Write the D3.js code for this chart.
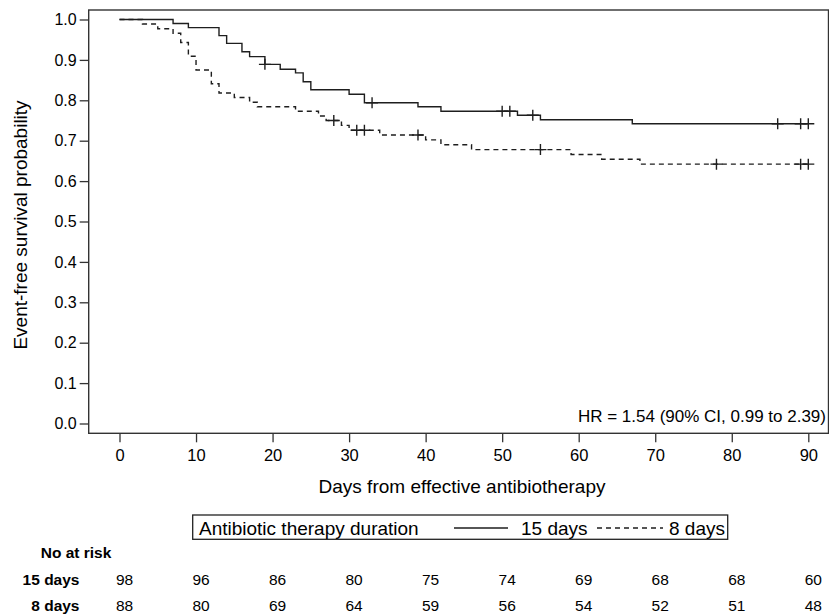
<!DOCTYPE html>
<html>
<head>
<meta charset="utf-8">
<script src="https://cdn.jsdelivr.net/npm/d3@7"></script>
<style>
  body { margin: 0; background: #fff; }
  text { font-family: "Liberation Sans", Arial, sans-serif; fill: #000; }
</style>
</head>
<body>
<div id="chart"></div>
<script>
// Kaplan-Meier steps (time in days, survival after the step)
var longTimes = [0, 7, 9, 13, 14, 16, 17, 19, 21, 23, 24, 25, 30, 32, 39, 42, 52, 55, 67];
var longSurv  = [1.0, 0.990, 0.980, 0.960, 0.941, 0.920, 0.908, 0.889, 0.877, 0.868, 0.846, 0.826, 0.815, 0.794, 0.784, 0.773, 0.763, 0.752, 0.742];
var longCensor = [19, 33, 50, 51, 54, 86, 89, 90];

var shortTimes = [0, 3, 5, 7, 8, 9, 10, 12, 13, 15, 17, 18, 23, 26, 27, 29, 30, 34, 40, 42, 46, 59, 63, 68];
var shortSurv  = [1.0, 0.989, 0.977, 0.966, 0.943, 0.909, 0.875, 0.841, 0.818, 0.807, 0.795, 0.784, 0.773, 0.761, 0.750, 0.738, 0.726, 0.714, 0.702, 0.690, 0.678, 0.666, 0.654, 0.642];
var shortCensor = [28, 31, 32, 39, 55, 78, 89, 90];

var xTicks = [0, 10, 20, 30, 40, 50, 60, 70, 80, 90];
var yTicks = [0, 0.1, 0.2, 0.3, 0.4, 0.5, 0.6, 0.7, 0.8, 0.9, 1.0];

var riskLabels = ["15 days", "8 days"];
var riskLong  = [98, 96, 86, 80, 75, 74, 69, 68, 68, 60];
var riskShort = [88, 80, 69, 64, 59, 56, 54, 52, 51, 48];

var svgWidth = 829;
var svgHeight = 616;
var frame = { left: 88.7, right: 828.5, top: 10, bottom: 433.3 };

var svg = d3.select("#chart")
  .append("svg")
  .attr("width", svgWidth)
  .attr("height", svgHeight);

var x = d3.scaleLinear().domain([0, 90]).range([119.5, 808.3]);
var y = d3.scaleLinear().domain([0, 1]).range([423.5, 19.5]);

var lineColor = "#1e1e1e";

// frame
svg.append("rect")
  .attr("x", frame.left)
  .attr("y", frame.top)
  .attr("width", frame.right - frame.left)
  .attr("height", frame.bottom - frame.top)
  .attr("fill", "none")
  .attr("stroke", "#333")
  .attr("stroke-width", 1.4);

// axes
var leftAxis = d3.axisLeft(y)
  .tickValues(yTicks)
  .tickSize(9)
  .tickPadding(3)
  .tickFormat(d3.format(".1f"));

var yAxisG = svg.append("g")
  .attr("transform", `translate(${frame.left}, 0)`)
  .call(leftAxis);
yAxisG.select(".domain").remove();
yAxisG.selectAll("line").attr("stroke", "#333").attr("stroke-width", 1.3);
yAxisG.selectAll("text")
  .style("font-family", "'Liberation Sans', Arial, sans-serif")
  .style("font-size", "16px")
  .attr("fill", "#000");

var bottomAxis = d3.axisBottom(x)
  .tickValues(xTicks)
  .tickSize(9)
  .tickPadding(7)
  .tickFormat(d3.format("d"));

var xAxisG = svg.append("g")
  .attr("transform", `translate(0, ${frame.bottom})`)
  .call(bottomAxis);
xAxisG.select(".domain").remove();
xAxisG.selectAll("line").attr("stroke", "#333").attr("stroke-width", 1.3);
xAxisG.selectAll("text")
  .style("font-family", "'Liberation Sans', Arial, sans-serif")
  .style("font-size", "16.5px")
  .attr("fill", "#000");

// axis titles
svg.append("text")
  .attr("transform", "translate(27, 225) rotate(-90)")
  .attr("text-anchor", "middle")
  .style("font-size", "19px")
  .text("Event-free survival probability");

svg.append("text")
  .attr("x", 462)
  .attr("y", 493)
  .attr("text-anchor", "middle")
  .style("font-size", "19px")
  .text("Days from effective antibiotherapy");

svg.append("text")
  .attr("x", 826)
  .attr("y", 422)
  .attr("text-anchor", "end")
  .style("font-size", "17px")
  .text("HR = 1.54 (90% CI, 0.99 to 2.39)");

// curves
function stepData(times, surv, end) {
  var pts = times.map((t, i) => [t, surv[i]]);
  pts.push([end, surv[surv.length - 1]]);
  return pts;
}
function survAt(times, surv, t) {
  var i = d3.bisectRight(times, t) - 1;
  return surv[Math.max(i, 0)];
}

var stepLine = d3.line()
  .x(d => x(d[0]))
  .y(d => y(d[1]))
  .curve(d3.curveStepAfter);

var groups = [
  { times: longTimes, surv: longSurv, censor: longCensor, dash: null },
  { times: shortTimes, surv: shortSurv, censor: shortCensor, dash: "5,4" }
];

groups.forEach(function(g) {
  var end = d3.max(g.censor);
  svg.append("path")
    .datum(stepData(g.times, g.surv, end))
    .attr("d", stepLine)
    .attr("fill", "none")
    .attr("stroke", lineColor)
    .attr("stroke-width", 1.4)
    .attr("stroke-dasharray", g.dash);

  svg.selectAll(null)
    .data(g.censor)
    .enter()
    .append("path")
    .attr("d", function(t) {
      var cx = x(t), cy = y(survAt(g.times, g.surv, t));
      return `M${cx - 6},${cy}H${cx + 6}M${cx},${cy - 5.5}V${cy + 5.5}`;
    })
    .attr("fill", "none")
    .attr("stroke", lineColor)
    .attr("stroke-width", 1.4);
});

// legend
var legend = svg.append("g");
legend.append("rect")
  .attr("x", 192.7)
  .attr("y", 515)
  .attr("width", 535)
  .attr("height", 24.3)
  .attr("fill", "none")
  .attr("stroke", "#222")
  .attr("stroke-width", 1.3);

legend.append("text")
  .attr("x", 199)
  .attr("y", 535)
  .style("font-size", "19px")
  .text("Antibiotic therapy duration");

legend.append("line")
  .attr("x1", 454).attr("x2", 508)
  .attr("y1", 528).attr("y2", 528)
  .attr("stroke", lineColor)
  .attr("stroke-width", 1.4);
legend.append("text")
  .attr("x", 521)
  .attr("y", 535)
  .style("font-size", "19px")
  .text("15 days");

legend.append("line")
  .attr("x1", 597).attr("x2", 663)
  .attr("y1", 528).attr("y2", 528)
  .attr("stroke", lineColor)
  .attr("stroke-width", 1.4)
  .attr("stroke-dasharray", "5,4");
legend.append("text")
  .attr("x", 669)
  .attr("y", 535)
  .style("font-size", "19px")
  .text("8 days");

// number at risk
svg.append("text")
  .attr("x", 40.7)
  .attr("y", 558)
  .style("font-size", "15.5px")
  .style("font-weight", "bold")
  .text("No at risk");

var riskRows = [riskLong, riskShort];
var rowY = [585, 610.5];

riskRows.forEach(function(row, r) {
  svg.append("text")
    .attr("x", 79.5)
    .attr("y", rowY[r])
    .attr("text-anchor", "end")
    .style("font-size", "15.5px")
    .style("font-weight", "bold")
    .text(riskLabels[r]);

  svg.selectAll(null)
    .data(row)
    .enter()
    .append("text")
    .attr("x", (d, i) => x(xTicks[i]) + 5)
    .attr("y", rowY[r])
    .attr("text-anchor", "middle")
    .style("font-size", "15.5px")
    .text(d => d);
});
</script>
</body>
</html>
